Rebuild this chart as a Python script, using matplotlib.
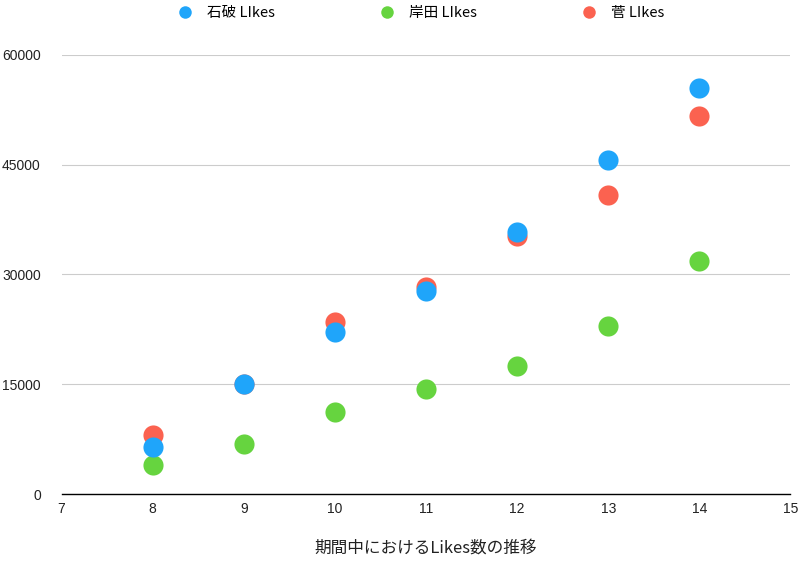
import matplotlib
matplotlib.use("Agg")
import matplotlib.pyplot as plt
from matplotlib.lines import Line2D

plt.rcParams['font.family'] = ['Noto Sans CJK JP', 'DejaVu Sans']

x = [8, 9, 10, 11, 12, 13, 14]
ishiba = [6400, 15000, 22100, 27700, 35800, 45600, 55400]
kishida = [4000, 6800, 11200, 14300, 17500, 22900, 31800]
suga = [8000, 15000, 23500, 28300, 35300, 40800, 51600]
labels = ['石破 LIkes', '岸田 LIkes', '菅 LIkes']
colors = ['#1FA5FA', '#66D43F', '#FB6250']
xlabel = '期間中におけるLikes数の推移'

fig = plt.figure(figsize=(8, 5.64), dpi=100)
ax = fig.add_axes([0.077, 0.124, 0.911, 0.779])

s = 210
ax.scatter(x, kishida, s=s, color=colors[1], zorder=3, linewidths=0)
ax.scatter(x, suga, s=s, color=colors[2], zorder=4, linewidths=0)
ax.scatter(x, ishiba, s=s, color=colors[0], zorder=5, linewidths=0)

ax.set_xlim(7, 15)
ax.set_ylim(0, 60000)
ax.set_xticks(range(7, 16))
ax.set_yticks([0, 15000, 30000, 45000, 60000])
ax.set_yticklabels(['0', '15000', '30000', '45000', '60000'])
for lab in ax.get_xticklabels() + ax.get_yticklabels():
    lab.set_fontfamily(['Liberation Sans', 'DejaVu Sans'])
ax.yaxis.grid(True, color='#CCCCCC', linewidth=0.8)
ax.set_axisbelow(True)
for sp in ['top', 'right', 'left']:
    ax.spines[sp].set_visible(False)
ax.spines['bottom'].set_color('#000000')
ax.spines['bottom'].set_linewidth(1.0)
ax.tick_params(axis='both', length=0, labelsize=10, colors='#222222')
ax.tick_params(axis='y', pad=15)
ax.tick_params(axis='x', pad=6)
ax.set_xlabel(xlabel, fontsize=12, labelpad=17, color='#222222')

handles = [Line2D([], [], marker='o', linestyle='', markersize=9,
                  markerfacecolor=c, markeredgewidth=0) for c in colors]
fig.legend(handles, labels, loc='upper center', bbox_to_anchor=(0.522, 1.012),
           ncol=3, frameon=False, fontsize=10.5, columnspacing=6.7,
           handletextpad=0.5)

fig.savefig('out.png', dpi=100)
